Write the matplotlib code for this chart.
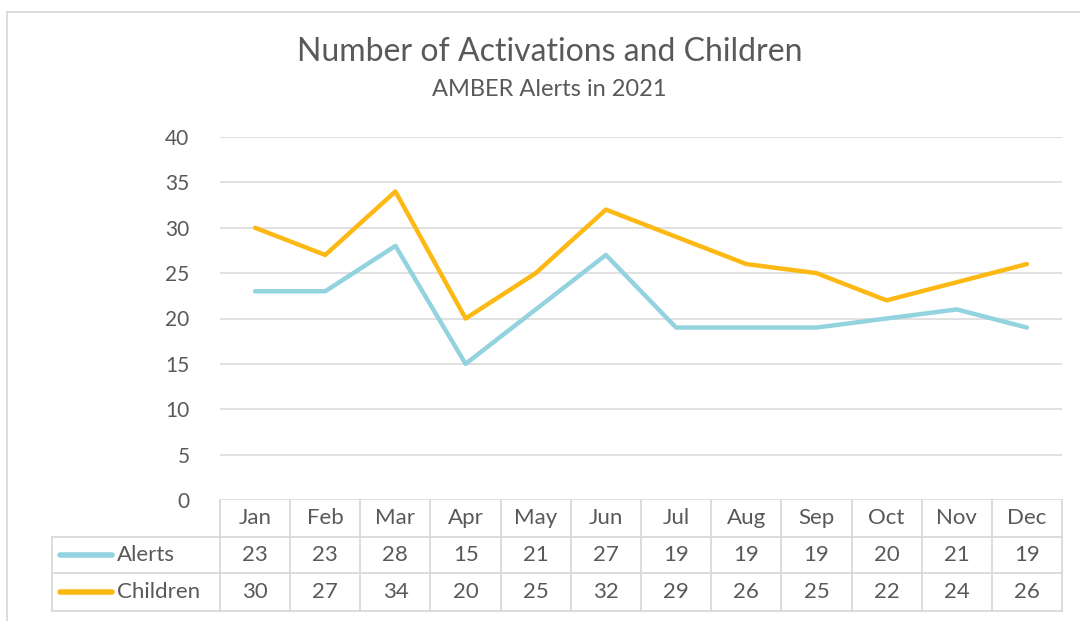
import matplotlib
matplotlib.use("Agg")
import matplotlib.pyplot as plt
import matplotlib.transforms as mtransforms
from matplotlib.lines import Line2D

months = ["Jan", "Feb", "Mar", "Apr", "May", "Jun", "Jul", "Aug", "Sep", "Oct", "Nov", "Dec"]
alerts = [23, 23, 28, 15, 21, 27, 19, 19, 19, 20, 21, 19]
children = [30, 27, 34, 20, 25, 32, 29, 26, 25, 22, 24, 26]
series_names = ["Alerts", "Children"]
yticks = [0, 5, 10, 15, 20, 25, 30, 35, 40]

BLUE = "#92D3DF"
AMBER = "#FDB913"
TXT = "#595959"
GRID = "#D9D9D9"

plt.rcParams['font.family'] = ['Lato', 'DejaVu Sans']

W, H = 1080, 621
fig = plt.figure(figsize=(W / 100, H / 100), dpi=100)

def fy(py):
    return 1 - py / H

def fx(px):
    return px / W

L, R, T, B = 220, 1062, 137, 500
ax = fig.add_axes([fx(L), fy(B), fx(R) - fx(L), fy(T) - fy(B)])
ax.set_xlim(-0.5, len(months) - 0.5)
ax.set_ylim(0, 40)
for s in ax.spines.values():
    s.set_visible(False)
ax.set_xticks([])
ax.set_yticks(yticks)
ax.tick_params(axis='y', length=0, pad=22, labelsize=15, labelcolor=TXT)
for t in yticks:
    ax.axhline(t, color=GRID, lw=1.1, zorder=0)

x = list(range(len(months)))
ax.plot(x, alerts, color=BLUE, lw=3.2, solid_capstyle='round', solid_joinstyle='round', zorder=3)
ax.plot(x, children, color=AMBER, lw=3.2, solid_capstyle='round', solid_joinstyle='round', zorder=3)

# Titles
fig.text(fx(550), fy(52), "Number of Activations and Children", ha='center', va='center',
         fontsize=23, color=TXT)
fig.text(fx(549), fy(89), "AMBER Alerts in 2021", ha='center', va='center',
         fontsize=17, color=TXT)

# Data table
blend = mtransforms.blended_transform_factory(ax.transData, fig.transFigure)
rows = [500, 537, 573, 611]
LBL = 52

def hline(px0, px1, py):
    fig.add_artist(Line2D([fx(px0), fx(px1)], [fy(py), fy(py)], color=GRID, lw=1.3,
                          transform=fig.transFigure))

def vline_data(xd, py0, py1):
    fig.add_artist(Line2D([xd, xd], [fy(py0), fy(py1)], color=GRID, lw=1.3, transform=blend))

hline(LBL, R, rows[1])
hline(LBL, R, rows[2])
hline(LBL, R, rows[3])
for i in range(len(months) + 1):
    vline_data(i - 0.5, rows[0], rows[3])
fig.add_artist(Line2D([fx(LBL), fx(LBL)], [fy(rows[1]), fy(rows[3])], color=GRID, lw=1.3,
                      transform=fig.transFigure))

for i, m in enumerate(months):
    fig.text(i, fy((rows[0] + rows[1]) / 2), m, ha='center', va='center', fontsize=16,
             color=TXT, transform=blend)
for r, (vals, col, name) in enumerate(zip([alerts, children], [BLUE, AMBER], series_names)):
    yc = fy((rows[r + 1] + rows[r + 2]) / 2)
    for i, v in enumerate(vals):
        fig.text(i, yc, str(v), ha='center', va='center', fontsize=16, color=TXT, transform=blend)
    fig.add_artist(Line2D([fx(60), fx(112)], [yc, yc], color=col, lw=4, solid_capstyle='round',
                          transform=fig.transFigure))
    fig.text(fx(117), yc, name, ha='left', va='center', fontsize=16, color=TXT)

# Outer chart frame (left and top)
fig.add_artist(Line2D([fx(7), fx(7)], [fy(12), fy(H)], color=GRID, lw=1.3, transform=fig.transFigure))
fig.add_artist(Line2D([fx(7), fx(W)], [fy(12), fy(12)], color=GRID, lw=1.3, transform=fig.transFigure))

fig.savefig("out.png", dpi=100)
